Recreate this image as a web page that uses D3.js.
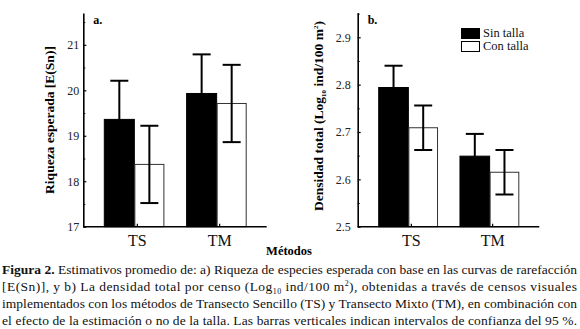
<!DOCTYPE html>
<html>
<head>
<meta charset="utf-8">
<script src="https://cdn.jsdelivr.net/npm/d3@7"></script>
<style>
  body { margin: 0; background: #fff; }
  svg text { font-family: "Liberation Serif", "Tinos", "DejaVu Serif", serif; }
  .axis path, .axis line { stroke: #000; }
  .axis text { font-size: 12px; fill: #222; }
</style>
</head>
<body>
<div id="chart"></div>
<script>
// Data
const methods = ["TS", "TM"];
const groups = ["Sin talla", "Con talla"];

// a. Riqueza esperada [E(Sn)]
const richSin = [19.36, 19.93];
const richCon = [18.37, 19.71];
const richSinCI = [0.85, 0.86];
const richConCI = [0.85, 0.85];
const richTicks = [17, 18, 19, 20, 21];

// b. Densidad total (Log10 ind/100 m2)
const densSin = [2.794, 2.649];
const densCon = [2.709, 2.615];
const densSinCI = [0.046, 0.047];
const densConCI = [0.047, 0.047];
const densTicks = [2.5, 2.6, 2.7, 2.8, 2.9];

const width = 580, height = 329;
const serif = "'Liberation Serif', 'Tinos', 'DejaVu Serif', serif";

const svg = d3.select("#chart")
  .append("svg")
  .attr("width", width)
  .attr("height", height)
  .attr("font-family", serif);

const toRows = (sin, con, sinCI, conCI) => methods.map((m, i) => ({
  method: m,
  bars: [
    { group: groups[0], value: sin[i], ci: sinCI[i] },
    { group: groups[1], value: con[i], ci: conCI[i] }
  ]
}));

const drawPanel = (opts) => {
  const { left, right, top, bottom, domain, ticks, fmt, rows, tag } = opts;

  const y = d3.scaleLinear().domain(domain).range([bottom, top]);
  const x = d3.scaleBand().domain(methods)
    .range([left + 21, right - 20])
    .paddingInner(0.27);
  const xSub = d3.scaleBand().domain(groups).range([0, x.bandwidth()]);

  const g = svg.append("g");

  // bars
  const grp = g.selectAll(".grp")
    .data(rows)
    .enter().append("g")
    .attr("transform", d => `translate(${x(d.method)},0)`);

  grp.selectAll("rect")
    .data(d => d.bars)
    .enter().append("rect")
    .attr("x", d => xSub(d.group) + (d.group === groups[1] ? 0.5 : 0))
    .attr("y", d => y(d.value))
    .attr("width", d => xSub.bandwidth() - (d.group === groups[1] ? 1 : 0))
    .attr("height", d => y(domain[0]) - y(d.value))
    .attr("fill", d => d.group === groups[0] ? "#000" : "#fff")
    .attr("stroke", d => d.group === groups[0] ? "#000" : "#333")
    .attr("stroke-width", 1);

  // error bars
  const cap = 9;
  const eb = grp.selectAll(".eb")
    .data(d => d.bars)
    .enter().append("g")
    .attr("transform", d => `translate(${xSub(d.group) + xSub.bandwidth() / 2},0)`);
  eb.append("line")
    .attr("y1", d => y(d.value - d.ci))
    .attr("y2", d => y(d.value + d.ci))
    .attr("stroke", "#000").attr("stroke-width", 2);
  eb.append("line")
    .attr("x1", -cap).attr("x2", cap)
    .attr("y1", d => y(d.value + d.ci)).attr("y2", d => y(d.value + d.ci))
    .attr("stroke", "#000").attr("stroke-width", 2);
  eb.append("line")
    .attr("x1", -cap).attr("x2", cap)
    .attr("y1", d => y(d.value - d.ci)).attr("y2", d => y(d.value - d.ci))
    .attr("stroke", "#000").attr("stroke-width", 2);

  // y axis, ticks pointing inwards
  const yAxis = d3.axisLeft(y).tickValues(ticks).tickFormat(fmt)
    .tickSize(-3).tickPadding(opts.pad).tickSizeOuter(0);
  const ya = g.append("g").attr("class", "axis")
    .attr("transform", `translate(${left},0)`)
    .call(yAxis)
    .attr("font-family", serif);
  ya.select(".domain").attr("stroke-width", 1.6);
  ya.selectAll(".tick line").attr("stroke-width", 1.2);

  const step = ticks[1] - ticks[0];
  const minor = ticks.map(t => t + step / 2).filter(v => v < domain[1]);
  g.append("g").attr("class", "axis")
    .attr("transform", `translate(${left},0)`)
    .call(d3.axisLeft(y).tickValues(minor).tickFormat("").tickSize(-2))
    .call(s => s.select(".domain").remove());

  // x axis
  g.append("line")
    .attr("x1", left).attr("x2", right)
    .attr("y1", bottom).attr("y2", bottom)
    .attr("stroke", "#000").attr("stroke-width", 1.6);

  const xLab = g.append("g");
  methods.forEach(m => {
    const cx = x(m) + x.bandwidth() / 2 + 3;
    xLab.append("line")
      .attr("x1", cx).attr("x2", cx)
      .attr("y1", bottom).attr("y2", bottom - 3)
      .attr("stroke", "#000").attr("stroke-width", 1.2);
    xLab.append("text")
      .attr("x", cx).attr("y", bottom + 19)
      .attr("text-anchor", "middle")
      .attr("font-size", 16).attr("fill", "#111")
      .text(m);
  });

  // panel tag
  g.append("text")
    .attr("x", left + 10).attr("y", top + 11)
    .attr("font-weight", "bold").attr("font-size", 12)
    .text(tag);

  return { x, y };
};

// Panel a
drawPanel({
  left: 83.3, right: 266.7, top: 13, bottom: 226.7,
  domain: [17, 21.7], ticks: richTicks, fmt: d3.format("d"), pad: 4,
  rows: toRows(richSin, richCon, richSinCI, richConCI), tag: "a."
});

// Panel b
drawPanel({
  left: 357.7, right: 539.3, top: 12.7, bottom: 226.7,
  domain: [2.5, 2.952], ticks: densTicks, fmt: d3.format(".1f"), pad: 7,
  rows: toRows(densSin, densCon, densSinCI, densConCI), tag: "b."
});

// y titles
svg.append("text")
  .attr("transform", "translate(54,120) rotate(-90)")
  .attr("text-anchor", "middle")
  .attr("font-weight", "bold").attr("font-size", 13.5)
  .text("Riqueza esperada [E(Sn)]");

const tb = svg.append("text")
  .attr("transform", "translate(323,116) rotate(-90)")
  .attr("text-anchor", "middle")
  .attr("font-weight", "bold").attr("font-size", 13.5);
tb.append("tspan").text("Densidad total (Log");
tb.append("tspan").attr("font-size", 7).attr("dy", 3).text("10");
tb.append("tspan").attr("dy", -3).text(" ind/100 m");
tb.append("tspan").attr("font-size", 7).attr("dy", -5).text("2");
tb.append("tspan").attr("dy", 5).text(")");

// legend
const legend = svg.append("g");
groups.forEach((gname, i) => {
  legend.append("rect")
    .attr("x", 461.5).attr("y", 28.5 + i * 13)
    .attr("width", 18).attr("height", 10)
    .attr("fill", i === 0 ? "#000" : "#fff")
    .attr("stroke", "#000").attr("stroke-width", 1);
  legend.append("text")
    .attr("x", 483).attr("y", 37 + i * 13)
    .attr("font-size", 12.5).attr("fill", "#111")
    .text(gname);
});

// x title
svg.append("text")
  .attr("x", 289).attr("y", 255)
  .attr("text-anchor", "middle")
  .attr("font-weight", "bold").attr("font-size", 12.5)
  .text("Métodos");

// caption
const capLines = [
  [["b", "Figura 2."], ["", " Estimativos promedio de: a) Riqueza de especies esperada con base en las curvas de rarefacción"]],
  [["", "[E(Sn)], y b) La densidad total por censo (Log"], ["sub", "10"], ["", " ind/100 m"], ["sup", "2"], ["", "), obtenidas a través de censos visuales"]],
  [["", "implementados con los métodos de Transecto Sencillo (TS) y Transecto Mixto (TM), en combinación con"]],
  [["", "el efecto de la estimación o no de la talla. Las barras verticales indican intervalos de confianza del 95 %."]]
];
capLines.forEach((parts, i) => {
  const t = svg.append("text")
    .attr("x", 2).attr("y", 274 + i * 17)
    .attr("font-size", 13.5).attr("fill", "#111")
    .attr("textLength", 575).attr("lengthAdjust", "spacing");
  let shift = 0;
  parts.forEach(([kind, str]) => {
    const s = t.append("tspan").text(str);
    if (kind === "b") s.attr("font-weight", "bold");
    if (kind === "sub") { s.attr("font-size", 8).attr("dy", 3 - shift); shift = 3; }
    else if (kind === "sup") { s.attr("font-size", 8).attr("dy", -5 - shift); shift = -5; }
    else if (shift !== 0) { s.attr("dy", -shift); shift = 0; }
  });
});
</script>
</body>
</html>
